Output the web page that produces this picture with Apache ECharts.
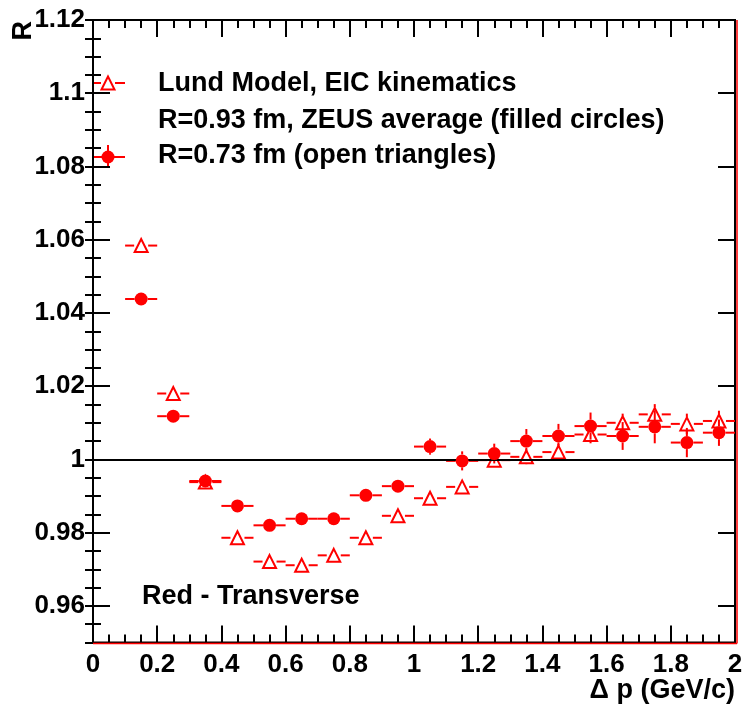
<!DOCTYPE html>
<html>
<head>
<meta charset="utf-8">
<script src="https://cdn.jsdelivr.net/npm/echarts@6/dist/echarts.min.js"></script>
<style>
  html, body { margin: 0; padding: 0; background: #fff; }
  #chart { width: 746px; height: 708px; }
</style>
</head>
<body>
<div id="chart"></div>
<script>
// bin centres (GeV/c) and half bin width
var dp = [0.15, 0.25, 0.35, 0.45, 0.55, 0.65, 0.75, 0.85, 0.95, 1.05,
          1.15, 1.25, 1.35, 1.45, 1.55, 1.65, 1.75, 1.85, 1.95]
var dpHalf = 0.05

// filled circles
var circR = [1.0438, 1.0118, 0.9941, 0.9873, 0.9820, 0.9838, 0.9838, 0.9902, 0.9927, 1.0035,
             0.9996, 1.0016, 1.0050, 1.0064, 1.0091, 1.0064, 1.0089, 1.0046, 1.0073]
var circErr = [0.0008, 0.0008, 0.0008, 0.0008, 0.0008, 0.0009, 0.0009, 0.0012, 0.0015, 0.0022,
               0.0026, 0.0027, 0.0033, 0.0033, 0.0037, 0.0038, 0.0045, 0.0040, 0.0036]

// open triangles
var triR = [1.0584, 1.0180, 0.9938, 0.9786, 0.9721, 0.9711, 0.9738, 0.9786, 0.9846, 0.9894,
            0.9925, 0.9998, 1.0007, 1.0020, 1.0068, 1.0100, 1.0123, 1.0097, 1.0105]
var triErr = [0.0008, 0.0008, 0.0008, 0.0008, 0.0008, 0.0008, 0.0008, 0.0010, 0.0012, 0.0015,
              0.0017, 0.0018, 0.0020, 0.0022, 0.0024, 0.0025, 0.0028, 0.0028, 0.0028]

var xTicks = {min: 0, max: 2, step: 0.2}
var yTicks = {min: 0.96, max: 1.12, step: 0.02}
var yRange = {min: 0.95, max: 1.12}

var RED = '#ff0000'
var FONT = '"Liberation Sans", Arial, Helvetica, sans-serif'
var TXT = 'bold 27px ' + FONT

function errData (ys, errs) {
  return dp.map(function (x, i) { return [x, ys[i], errs[i]] })
}

// ROOT-like error bars: lines stop at the marker edge
function errBars (gap) {
  return function (params, api) {
    var x = api.value(0), y = api.value(1), e = api.value(2)
    var p = api.coord([x, y])
    var l = api.coord([x - dpHalf, y])
    var r = api.coord([x + dpHalf, y])
    var t = api.coord([x, y + e])
    var b = api.coord([x, y - e])
    var st = {stroke: RED, lineWidth: 2}
    var kids = [
      {type: 'line', shape: {x1: l[0], y1: p[1], x2: p[0] - gap, y2: p[1]}, style: st},
      {type: 'line', shape: {x1: p[0] + gap, y1: p[1], x2: r[0], y2: p[1]}, style: st}
    ]
    if (t[1] < p[1] - gap) kids.push({type: 'line', shape: {x1: p[0], y1: p[1] - gap, x2: p[0], y2: t[1]}, style: st})
    if (b[1] > p[1] + gap) kids.push({type: 'line', shape: {x1: p[0], y1: p[1] + gap, x2: p[0], y2: b[1]}, style: st})
    return {type: 'group', children: kids}
  }
}

var tickLine = {show: true, inside: true, length: 17, lineStyle: {color: '#000', width: 2}}
var minorLine = {show: true, splitNumber: 4, length: 8, lineStyle: {color: '#000', width: 2}}
var lbl = {fontFamily: FONT, fontWeight: 'bold', fontSize: 26, color: '#000'}

var chart = echarts.init(document.getElementById('chart'), null, {renderer: 'canvas'})

var option = {
  animation: false,
  backgroundColor: '#fff',
  grid: [
    {left: 93, right: 11, top: 20, bottom: 65.5, show: true, borderColor: '#000', borderWidth: 2},
    {left: 93, right: 11, top: 20, bottom: 102.1, show: false}
  ],
  xAxis: [
    {
      type: 'value', gridIndex: 0, position: 'bottom',
      min: xTicks.min, max: xTicks.max, interval: xTicks.step,
      axisLine: {show: true, lineStyle: {color: '#000', width: 2}},
      axisTick: tickLine, minorTick: minorLine,
      splitLine: {show: false},
      axisLabel: Object.assign({margin: 9}, lbl)
    },
    {
      type: 'value', gridIndex: 0, position: 'top',
      min: xTicks.min, max: xTicks.max, interval: xTicks.step,
      axisLine: {show: true, lineStyle: {color: '#000', width: 2}},
      axisTick: tickLine, minorTick: minorLine,
      splitLine: {show: false}, axisLabel: {show: false}
    },
    {type: 'value', gridIndex: 1, min: xTicks.min, max: xTicks.max, show: false}
  ],
  yAxis: [
    {
      type: 'value', gridIndex: 0, position: 'left',
      min: yRange.min, max: yRange.max, interval: 0.005,
      axisLine: {show: true, lineStyle: {color: '#000', width: 2}},
      axisTick: {show: true, inside: true, length: 8, lineStyle: {color: '#000', width: 2}},
      splitLine: {show: false}, axisLabel: {show: false}
    },
    {
      type: 'value', gridIndex: 0, position: 'right',
      min: yRange.min, max: yRange.max, interval: 0.005,
      axisLine: {show: true, lineStyle: {color: '#000', width: 2}},
      axisTick: {show: true, inside: true, length: 8, lineStyle: {color: '#000', width: 2}},
      splitLine: {show: false}, axisLabel: {show: false}
    },
    {
      type: 'value', gridIndex: 1, position: 'left',
      min: yTicks.min, max: yTicks.max, interval: yTicks.step,
      axisLine: {show: false}, axisTick: tickLine,
      splitLine: {show: false},
      axisLabel: Object.assign({margin: 8}, lbl)
    },
    {
      type: 'value', gridIndex: 1, position: 'right',
      min: yTicks.min, max: yTicks.max, interval: yTicks.step,
      axisLine: {show: false}, axisTick: tickLine,
      splitLine: {show: false}, axisLabel: {show: false}
    }
  ],
  series: [
    {
      name: 'triangle errors', type: 'custom', xAxisIndex: 0, yAxisIndex: 0, z: 2,
      renderItem: errBars(7), data: errData(triR, triErr),
      markLine: {
        silent: true, symbol: 'none', label: {show: false},
        lineStyle: {color: '#000', width: 2, type: 'solid'},
        data: [{yAxis: 1}]
      }
    },
    {
      name: 'circle errors', type: 'custom', xAxisIndex: 0, yAxisIndex: 0, z: 3,
      renderItem: errBars(6.5), data: errData(circR, circErr)
    },
    {
      name: 'Lund Model, EIC kinematics', type: 'scatter', xAxisIndex: 0, yAxisIndex: 0, z: 4,
      symbol: 'triangle', symbolSize: [13, 13],
      itemStyle: {color: 'rgba(0,0,0,0)', borderColor: RED, borderWidth: 2, opacity: 1},
      data: dp.map(function (x, i) { return [x, triR[i]] })
    },
    {
      name: 'R=0.73 fm (open triangles)', type: 'scatter', xAxisIndex: 0, yAxisIndex: 0, z: 5,
      symbol: 'circle', symbolSize: 13,
      itemStyle: {color: RED, opacity: 1},
      data: dp.map(function (x, i) { return [x, circR[i]] })
    }
  ],
  graphic: [
    // red frame of the histogram peeking out under the axes
    {type: 'line', z: 1, shape: {x1: 93, y1: 643.5, x2: 737, y2: 643.5}, style: {stroke: RED, lineWidth: 1.5}},
    {type: 'line', z: 1, shape: {x1: 737, y1: 20, x2: 737, y2: 643.5}, style: {stroke: RED, lineWidth: 1.5}},
    // legend
    {type: 'line', shape: {x1: 94, y1: 83, x2: 101, y2: 83}, style: {stroke: RED, lineWidth: 2}},
    {type: 'line', shape: {x1: 115, y1: 83, x2: 125, y2: 83}, style: {stroke: RED, lineWidth: 2}},
    {type: 'polygon', shape: {points: [[101.5, 89.5], [108, 76.5], [114.5, 89.5]]}, style: {fill: 'none', stroke: RED, lineWidth: 2}},
    {type: 'line', shape: {x1: 94, y1: 157, x2: 125, y2: 157}, style: {stroke: RED, lineWidth: 2}},
    {type: 'line', shape: {x1: 108, y1: 145, x2: 108, y2: 168}, style: {stroke: RED, lineWidth: 2}},
    {type: 'circle', shape: {cx: 108, cy: 157, r: 6.5}, style: {fill: RED}},
    {type: 'text', x: 158, y: 84, style: {text: 'Lund Model, EIC kinematics', font: TXT, fill: '#000', verticalAlign: 'middle'}},
    {type: 'text', x: 158, y: 121, style: {text: 'R=0.93 fm, ZEUS average (filled circles)', font: TXT, fill: '#000', verticalAlign: 'middle'}},
    {type: 'text', x: 158, y: 156, style: {text: 'R=0.73 fm (open triangles)', font: TXT, fill: '#000', verticalAlign: 'middle'}},
    {type: 'text', x: 142, y: 597, style: {text: 'Red - Transverse', font: TXT, fill: '#000', verticalAlign: 'middle'}},
    // axis titles
    {type: 'text', x: 735, y: 691, style: {text: '\u0394 p (GeV/c)', font: TXT, fill: '#000', align: 'right', verticalAlign: 'middle'}},
    {type: 'text', x: 24, y: 21, rotation: Math.PI / 2, style: {text: 'R', font: TXT, fill: '#000', align: 'right', verticalAlign: 'middle'}}
  ]
}

chart.setOption(option, true)
</script>
</body>
</html>
